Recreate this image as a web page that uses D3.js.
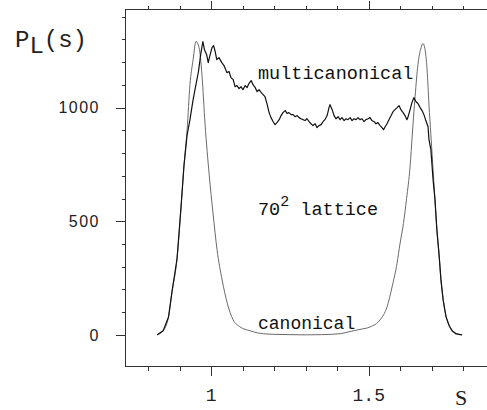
<!DOCTYPE html>
<html>
<head>
<meta charset="utf-8">
<script src="https://cdn.jsdelivr.net/npm/d3@7"></script>
<style>
  body { margin: 0; background: #fff; }
  svg { display: block; }
</style>
</head>
<body>
<div id="chart"></div>
<script>
// values (s on x, P_L(s) on y)

const canonS = [0.829, 0.848, 0.865, 0.876, 0.892, 0.905, 0.914, 0.924, 0.933, 0.943,
  0.952, 0.962, 0.971, 0.981, 0.994, 1.006, 1.019, 1.035, 1.051, 1.070,
  1.092, 1.124, 1.146, 1.187, 1.250, 1.300, 1.350, 1.409, 1.441, 1.472,
  1.504, 1.536, 1.558, 1.574, 1.590, 1.599, 1.610, 1.620, 1.631, 1.638,
  1.647, 1.656, 1.666, 1.672, 1.678, 1.685, 1.691, 1.697, 1.704, 1.710,
  1.716, 1.723, 1.729, 1.736, 1.745, 1.755, 1.764, 1.777, 1.793];
const canonP = [0, 18, 79, 189, 335, 568, 744, 903, 1101, 1211,
  1291, 1264, 1145, 925, 705, 537, 374, 242, 141, 66,
  35, 18, 9, 3, 1, 0, 1, 5, 15, 24,
  35, 66, 123, 211, 317, 400, 490, 600, 740, 880,
  1050, 1189, 1264, 1282, 1260, 1167, 1013, 881, 727, 595,
  463, 352, 242, 154, 84, 44, 22, 7, 0];

const multiS = [0.829, 0.848, 0.865, 0.876, 0.892, 0.905, 0.914, 0.924, 0.933, 0.943,
  0.952, 0.960, 0.967, 0.974, 0.979, 0.986, 0.991, 0.997, 1.003, 1.008,
  1.013, 1.018, 1.025, 1.034, 1.041, 1.050, 1.057, 1.063, 1.070, 1.076,
  1.082, 1.089, 1.095, 1.101, 1.108, 1.114, 1.120, 1.127, 1.133, 1.140,
  1.146, 1.152, 1.159, 1.165, 1.171, 1.178, 1.184, 1.190, 1.197, 1.203,
  1.209, 1.216, 1.222, 1.228, 1.235, 1.241, 1.247, 1.254, 1.260, 1.266,
  1.273, 1.279, 1.285, 1.292, 1.298, 1.304, 1.311, 1.317, 1.323, 1.330,
  1.336, 1.342, 1.349, 1.355, 1.361, 1.368, 1.374, 1.377, 1.384, 1.390,
  1.396, 1.403, 1.409, 1.415, 1.422, 1.428, 1.434, 1.441, 1.447, 1.453,
  1.460, 1.466, 1.472, 1.479, 1.485, 1.491, 1.498, 1.504, 1.510, 1.517,
  1.523, 1.529, 1.536, 1.542, 1.547, 1.552, 1.558, 1.564, 1.571, 1.577,
  1.583, 1.590, 1.596, 1.602, 1.609, 1.615, 1.621, 1.624, 1.631, 1.637,
  1.643, 1.650, 1.656, 1.663, 1.669, 1.675, 1.681, 1.688, 1.691, 1.697,
  1.704, 1.710, 1.716, 1.723, 1.729, 1.736, 1.745, 1.755, 1.764, 1.777,
  1.796];
const multiP = [0, 18, 79, 189, 335, 568, 744, 880, 947, 1035,
  1101, 1159, 1233, 1291, 1255, 1233, 1198, 1233, 1264, 1273,
  1247, 1211, 1220, 1198, 1185, 1154, 1159, 1132, 1123, 1092,
  1097, 1084, 1092, 1079, 1097, 1088, 1106, 1119, 1101, 1088,
  1070, 1079, 1066, 1057, 1048, 1013, 978, 956, 938, 925,
  934, 947, 965, 978, 987, 974, 978, 969, 969, 960,
  965, 956, 951, 947, 943, 951, 938, 929, 921, 929,
  912, 921, 925, 938, 947, 965, 1000, 1013, 991, 965,
  951, 960, 947, 956, 943, 951, 947, 956, 943, 951,
  947, 956, 947, 951, 938, 947, 951, 956, 943, 938,
  929, 934, 921, 912, 903, 916, 929, 947, 965, 982,
  991, 1000, 1009, 991, 978, 965, 947, 956, 991, 1022,
  1044, 1026, 1018, 1000, 987, 969, 943, 916, 859, 815,
  683, 595, 463, 352, 242, 154, 79, 40, 18, 4,
  0];

const xMajorTicks = [1, 1.5];
const xMinorTicks = [0.8, 0.9, 1.1, 1.2, 1.3, 1.4, 1.6, 1.7, 1.8];
const yMajorTicks = [0, 500, 1000];
const yMinorTicks = [100, 200, 300, 400, 600, 700, 800, 900, 1100, 1200, 1300, 1400];

const w = 487;
const h = 410;

const svg = d3.select("#chart")
  .append("svg")
  .attr("width", w)
  .attr("height", h);

// plot box: left 125, top 9, bottom 366, open on the right
const x = d3.scaleLinear().domain([0.727, 1.875]).range([125, 487]);
const y = d3.scaleLinear().domain([-137, 1434]).range([366, 9]);

const axisColor = "#333";
const frame = svg.append("g")
  .attr("stroke", axisColor)
  .attr("stroke-width", 1)
  .attr("shape-rendering", "crispEdges");

// axis lines: left, top, bottom (no right side in the figure)
const [x0, x1] = x.range();
const [yb, yt] = y.range();
frame.append("line").attr("x1", x0 + 0.5).attr("x2", x0 + 0.5).attr("y1", yt).attr("y2", yb);
frame.append("line").attr("x1", x0).attr("x2", x1).attr("y1", yt + 0.5).attr("y2", yt + 0.5);
frame.append("line").attr("x1", x0).attr("x2", x1).attr("y1", yb + 0.5).attr("y2", yb + 0.5);

// y ticks point outward to the left
frame.selectAll(".ytick")
  .data(yMinorTicks.map(v => ({v: v, len: 4})).concat(yMajorTicks.map(v => ({v: v, len: 10}))))
  .enter()
  .append("line")
  .attr("class", "ytick")
  .attr("x1", x0 + 0.5)
  .attr("x2", d => x0 + 0.5 - d.len)
  .attr("y1", d => Math.round(y(d.v)) + 0.5)
  .attr("y2", d => Math.round(y(d.v)) + 0.5);

// x ticks: down from the bottom line, up from the top line
const xTickData = xMinorTicks.map(v => ({v: v, len: 4})).concat(xMajorTicks.map(v => ({v: v, len: 9})));
frame.selectAll(".xtickb")
  .data(xTickData)
  .enter()
  .append("line")
  .attr("class", "xtickb")
  .attr("x1", d => Math.round(x(d.v)) + 0.5)
  .attr("x2", d => Math.round(x(d.v)) + 0.5)
  .attr("y1", yb + 0.5)
  .attr("y2", d => yb + 0.5 + d.len);
frame.selectAll(".xtickt")
  .data(xTickData)
  .enter()
  .append("line")
  .attr("class", "xtickt")
  .attr("x1", d => Math.round(x(d.v)) + 0.5)
  .attr("x2", d => Math.round(x(d.v)) + 0.5)
  .attr("y1", yt + 0.5)
  .attr("y2", d => yt + 0.5 - d.len);

// tick labels
svg.selectAll(".ylab")
  .data(yMajorTicks)
  .enter()
  .append("text")
  .attr("class", "ylab")
  .attr("x", 100)
  .attr("y", d => y(d))
  .attr("dy", "0.36em")
  .attr("text-anchor", "end")
  .attr("font-family", "Liberation Sans, Arial, sans-serif")
  .attr("font-size", 16)
  .attr("letter-spacing", 1.5)
  .attr("fill", "#222")
  .text(d => d3.format("d")(d));

svg.selectAll(".xlab")
  .data(xMajorTicks)
  .enter()
  .append("text")
  .attr("class", "xlab")
  .attr("x", d => x(d))
  .attr("y", 401)
  .attr("text-anchor", "middle")
  .attr("font-family", "Liberation Mono, Courier New, monospace")
  .attr("font-size", 18)
  .attr("fill", "#222")
  .text(d => d === 1 ? "1" : "1.5");

// curves
const canonical = canonS.map((s, i) => ({s: s, p: canonP[i]}));
const multicanonical = multiS.map((s, i) => ({s: s, p: multiP[i]}));

svg.append("path")
  .datum(canonical)
  .attr("fill", "none")
  .attr("stroke", "#6a6a6a")
  .attr("stroke-width", 1)
  .attr("d", d3.line().x(d => x(d.s)).y(d => y(d.p)).curve(d3.curveMonotoneX));

svg.append("path")
  .datum(multicanonical)
  .attr("fill", "none")
  .attr("stroke", "#111")
  .attr("stroke-width", 1.2)
  .attr("stroke-linejoin", "round")
  .attr("d", d3.line().x(d => x(d.s)).y(d => y(d.p)));

// labels
const mono = "Liberation Mono, Courier New, monospace";

const yLabel = svg.append("text")
  .attr("x", 15)
  .attr("y", 47)
  .attr("font-family", mono)
  .attr("font-size", 24)
  .attr("fill", "#222");
yLabel.append("tspan").text("P");
yLabel.append("tspan").attr("dy", 6).text("L");
yLabel.append("tspan").attr("dy", -6).text("(s)");

svg.append("text")
  .attr("x", 258)
  .attr("y", 79)
  .attr("font-family", mono)
  .attr("font-size", 18.5)
  .attr("fill", "#111")
  .text("multicanonical");

const lat = svg.append("text")
  .attr("x", 258)
  .attr("y", 215)
  .attr("font-family", mono)
  .attr("font-size", 18.5)
  .attr("fill", "#111");
lat.append("tspan").text("70");
lat.append("tspan").attr("dy", -9).attr("font-size", 15).text("2");
lat.append("tspan").attr("dy", 9).text(" lattice");

svg.append("text")
  .attr("x", 258)
  .attr("y", 329)
  .attr("font-family", mono)
  .attr("font-size", 18)
  .attr("fill", "#111")
  .text("canonical");

svg.append("text")
  .attr("x", 455)
  .attr("y", 405)
  .attr("font-family", "Liberation Serif, Times New Roman, serif")
  .attr("font-size", 22)
  .attr("fill", "#222")
  .text("S");
</script>
</body>
</html>
